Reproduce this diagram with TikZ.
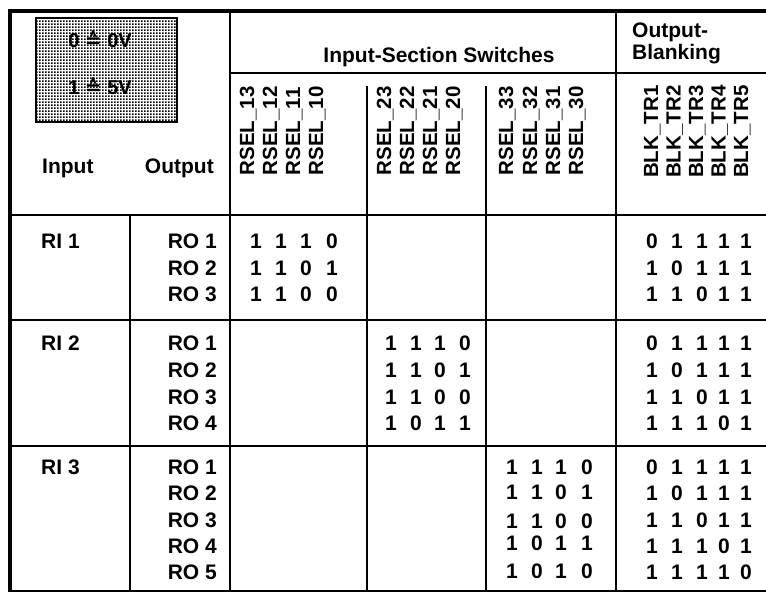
\documentclass[tikz,border=0pt]{standalone}
\usepackage{fontspec}
\setmainfont{Liberation Sans}
\newfontfamily\symfont{DejaVu Sans}
\usetikzlibrary{patterns}
\pgfdeclarepatternformonly{stipple}{\pgfpointorigin}{\pgfqpoint{3pt}{3pt}}{\pgfqpoint{3pt}{3pt}}%
  {\pgfpathrectangle{\pgfpointorigin}{\pgfqpoint{2pt}{2pt}}\pgfusepath{fill}}
\newcommand\bitsrow[4]{%
  \foreach \b [count=\i from 0] in {#4} {%
    \pgfmathsetmacro\xx{#2[\i]}%
    \node[dig] (#1-\i) at (\xx,#3) {\b};}}
\def\colA{{256,281,306,332}}
\def\colB{{391,416,440,465}}
\def\colC{{512,537,561,587}}
\def\colD{{652,677,702,724,746}}
\begin{document}
\begin{tikzpicture}[x=1pt,y=-1pt,
  txt/.style={font=\fontsize{21}{25}\selectfont\bfseries, inner sep=0pt},
  rottxt/.style={font=\fontsize{20.5}{24}\selectfont\bfseries, inner sep=0pt, rotate=90, anchor=base west},
  dig/.style={txt, anchor=base},
  lab/.style={txt, anchor=base west},
  rlab/.style={txt, anchor=base east},
  frame/.style={line width=4pt},
  gridline/.style={line width=2pt},
  legtxt/.style={font=\fontsize{20}{24}\selectfont\bfseries, inner sep=0pt, anchor=base}]
\useasboundingbox (0,0) rectangle (766,592);
% frame
\draw[frame] (8,11) -- (766,11);
\draw[frame] (10,9) -- (10,592);
% grid lines
\draw[gridline] (12,215) -- (766,215);
\draw[gridline] (12,320) -- (766,320);
\draw[gridline] (12,446) -- (766,446);
\draw[gridline] (12,591) -- (766,591);
\draw[gridline] (230,73) -- (766,73);
\draw[gridline] (230,13) -- (230,592);
\draw[gridline] (616,13) -- (616,592);
\draw[gridline] (367,86) -- (367,592);
\draw[gridline] (486,86) -- (486,592);
\draw[gridline] (130,215) -- (130,592);
% legend
\draw[line width=2pt, pattern=stipple, pattern color=black] (36,18) rectangle (177,122);
\node[legtxt] (leg0) at (100,47) {0 {\symfont ≙} 0V};
\node[legtxt] (leg1) at (100,94) {1 {\symfont ≙} 5V};
% headers
\node[lab] (hin) at (42,173) {Input};
\node[rlab] (hout) at (214,173) {Output};
\node[txt, anchor=base] (hiss) at (439,62) {Input-Section Switches};
\node[lab] (hob1) at (632,37) {Output-};
\node[lab] (hob2) at (632,59) {Blanking};
% rotated labels
\foreach \n/\x in {13/254,12/277,11/300,10/323}
  \node[rottxt] (rs\n) at (\x,175.5) {RSEL\_\n};
\foreach \n/\x in {23/391,22/414,21/437,20/460}
  \node[rottxt] (rs\n) at (\x,175.5) {RSEL\_\n};
\foreach \n/\x in {33/513,32/537,31/560,30/583}
  \node[rottxt] (rs\n) at (\x,175.5) {RSEL\_\n};
\foreach \n/\x in {1/658,2/680.5,3/703,4/725.5,5/748}
  \node[rottxt] (blk\n) at (\x,178) {BLK\_TR\n};
% RI labels
\node[lab] (ri1) at (41,248) {RI 1};
\node[lab] (ri2) at (41,350) {RI 2};
\node[lab] (ri3) at (41,474) {RI 3};
% RO labels
\foreach \k/\y in {1/248,2/275,3/301}
  \node[rlab] (ro1\k) at (217,\y) {RO \k};
\foreach \k/\y in {1/350,2/377,3/404,4/430}
  \node[rlab] (ro2\k) at (217,\y) {RO \k};
\foreach \k/\y in {1/474,2/500,3/527,4/553,5/579}
  \node[rlab] (ro3\k) at (217,\y) {RO \k};
% RI 1 bits
\bitsrow{a1}{\colA}{248}{1,1,1,0}
\bitsrow{a2}{\colA}{275}{1,1,0,1}
\bitsrow{a3}{\colA}{301}{1,1,0,0}
\bitsrow{d11}{\colD}{248}{0,1,1,1,1}
\bitsrow{d12}{\colD}{275}{1,0,1,1,1}
\bitsrow{d13}{\colD}{301}{1,1,0,1,1}
% RI 2 bits
\bitsrow{b1}{\colB}{350}{1,1,1,0}
\bitsrow{b2}{\colB}{377}{1,1,0,1}
\bitsrow{b3}{\colB}{404}{1,1,0,0}
\bitsrow{b4}{\colB}{430}{1,0,1,1}
\bitsrow{d21}{\colD}{350}{0,1,1,1,1}
\bitsrow{d22}{\colD}{377}{1,0,1,1,1}
\bitsrow{d23}{\colD}{404}{1,1,0,1,1}
\bitsrow{d24}{\colD}{430}{1,1,1,0,1}
% RI 3 bits
\bitsrow{c1}{\colC}{474}{1,1,1,0}
\bitsrow{c2}{\colC}{499}{1,1,0,1}
\bitsrow{c3}{\colC}{528}{1,1,0,0}
\bitsrow{c4}{\colC}{550}{1,0,1,1}
\bitsrow{c5}{\colC}{578}{1,0,1,0}
\bitsrow{d31}{\colD}{474}{0,1,1,1,1}
\bitsrow{d32}{\colD}{500}{1,0,1,1,1}
\bitsrow{d33}{\colD}{527}{1,1,0,1,1}
\bitsrow{d34}{\colD}{553}{1,1,1,0,1}
\bitsrow{d35}{\colD}{579}{1,1,1,1,0}
\end{tikzpicture}
\end{document}
